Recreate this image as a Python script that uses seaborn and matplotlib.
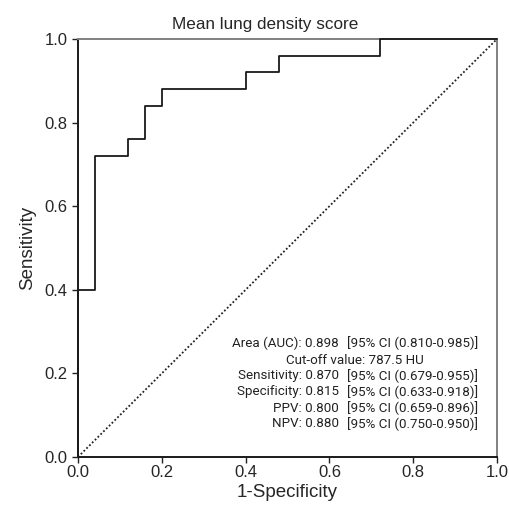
import matplotlib
matplotlib.use("Agg")
import matplotlib.pyplot as plt
import seaborn as sns

# ROC points (1-specificity, sensitivity)
fpr = [0.0, 0.0, 0.04, 0.12, 0.16, 0.20, 0.40, 0.48, 0.72, 1.0]
tpr = [0.0, 0.40, 0.72, 0.76, 0.84, 0.88, 0.92, 0.96, 1.0, 1.0]

ticks = [0.0, 0.2, 0.4, 0.6, 0.8, 1.0]
tick_labels = ["0.0", "0.2", "0.4", "0.6", "0.8", "1.0"]

stat_names = ["Area (AUC): 0.898", "Sensitivity: 0.870", "Specificity: 0.815",
              "PPV: 0.800", "NPV: 0.880"]
stat_ci = ["[95% CI (0.810-0.985)]", "[95% CI (0.679-0.955)]", "[95% CI (0.633-0.918)]",
           "[95% CI (0.659-0.896)]", "[95% CI (0.750-0.950)]"]
cutoff_text = "Cut-off value: 787.5 HU"

sns.set_style("ticks")
plt.rcParams['font.family'] = ['Liberation Sans', 'DejaVu Sans']

fig = plt.figure(figsize=(5.10, 5.11), dpi=100)
ax = fig.add_axes([78/510, 1 - 457/511, 419/510, 418/511])

# chance line
sns.lineplot(x=[0, 1], y=[0, 1], ax=ax, color="#222222", linestyle=(0, (1, 1.2)),
             linewidth=1.3, sort=False, estimator=None)
# ROC curve
sns.lineplot(x=fpr, y=tpr, ax=ax, color="#1a1a1a", linewidth=1.3, sort=False,
             estimator=None, drawstyle="steps-post", clip_on=False, zorder=5)

ax.set_xlim(0, 1)
ax.set_ylim(0, 1)
ax.set_xticks(ticks)
ax.set_xticklabels(tick_labels)
ax.set_yticks(ticks)
ax.set_yticklabels(tick_labels)
ax.tick_params(axis="both", labelsize=12, length=4.5, width=1.0, color="#222222", pad=1)
ax.tick_params(axis="y", pad=3)

for s in ["left", "bottom"]:
    ax.spines[s].set_color("#1a1a1a")
    ax.spines[s].set_linewidth(1.4)
for s in ["top", "right"]:
    ax.spines[s].set_visible(True)
    ax.spines[s].set_color("#808080")
    ax.spines[s].set_linewidth(1.4)

ax.set_xlabel("1-Specificity", fontsize=13.5, labelpad=3)
ax.set_ylabel("Sensitivity", fontsize=13.5, labelpad=6)
fig.text(265/510, 1 - 25/511, "Mean lung density score", fontsize=12.3,
         ha="center", va="center")

# stats block, condensed look: Roboto is narrower than Arial
cond = ['Roboto', 'DejaVu Sans']
fs = 9.6
renderer = fig.canvas.get_renderer()
ys = [0.273, 0.194, 0.156, 0.117, 0.079]
x_right = (478 - 78) / 419
inv = ax.transData.inverted()
area_left = None
for name, ci, yy in zip(stat_names, stat_ci, ys):
    t = ax.text(x_right, yy, ci, ha="right", va="center", fontsize=fs,
                family=cond, color="#222222")
    bb = t.get_window_extent(renderer)
    x_name = inv.transform((bb.x0 - 8, 0))[0]
    t2 = ax.text(x_name, yy, name, ha="right", va="center", fontsize=fs,
                 family=cond, color="#222222")
    if area_left is None:
        area_left = inv.transform((t2.get_window_extent(renderer).x0, 0))[0]
ax.text((area_left + x_right) / 2, 0.232, cutoff_text, ha="center", va="center",
        fontsize=fs, family=cond, color="#222222")

fig.savefig("out.png", dpi=100)
